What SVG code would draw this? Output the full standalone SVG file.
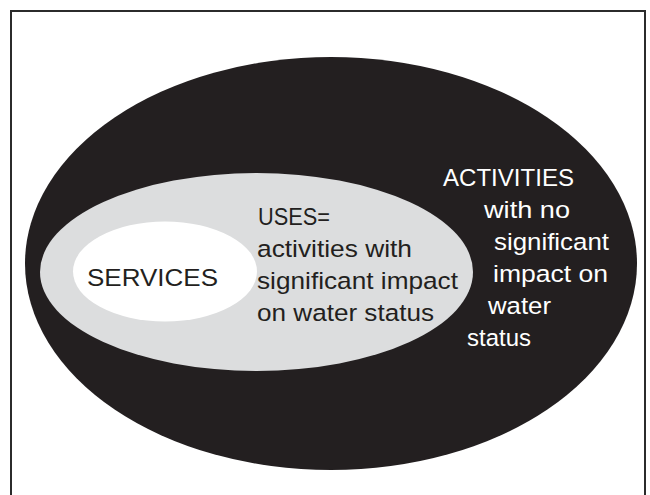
<svg xmlns="http://www.w3.org/2000/svg" width="650" height="495" viewBox="0 0 650 495">
  <style>
    .frame { fill: #ffffff; stroke: #2b2b2b; stroke-width: 2; }
    .outer { fill: #231f20; }
    .middle { fill: #dcddde; }
    .inner { fill: #ffffff; }
    text { font-family: "Liberation Sans", Arial, sans-serif; font-size: 24.5px; }
    .dark { fill: #231f20; }
    .light { fill: #ffffff; }
  </style>

  <!-- page frame (open at the bottom edge) -->
  <rect class="frame" x="11" y="11" width="634" height="500"/>

  <!-- outermost set: all activities -->
  <g id="activities">
    <ellipse class="outer" cx="331" cy="263.5" rx="306" ry="206.5"/>
    <text class="light" x="443" y="186" textLength="131" lengthAdjust="spacingAndGlyphs">ACTIVITIES</text>
    <text class="light" x="484" y="218" textLength="86" lengthAdjust="spacingAndGlyphs">with no</text>
    <text class="light" x="494" y="250" textLength="115" lengthAdjust="spacingAndGlyphs">significant</text>
    <text class="light" x="493" y="282" textLength="115" lengthAdjust="spacingAndGlyphs">impact on</text>
    <text class="light" x="488" y="314" textLength="63" lengthAdjust="spacingAndGlyphs">water</text>
    <text class="light" x="467" y="346" textLength="64" lengthAdjust="spacingAndGlyphs">status</text>
  </g>

  <!-- middle set: uses -->
  <g id="uses">
    <ellipse class="middle" cx="256.5" cy="272" rx="216.5" ry="99"/>
    <text class="dark" x="258" y="225" textLength="72" lengthAdjust="spacingAndGlyphs">USES=</text>
    <text class="dark" x="257" y="257" textLength="155" lengthAdjust="spacingAndGlyphs">activities with</text>
    <text class="dark" x="257" y="289" textLength="201" lengthAdjust="spacingAndGlyphs">significant impact</text>
    <text class="dark" x="257" y="321" textLength="177" lengthAdjust="spacingAndGlyphs">on water status</text>
  </g>

  <!-- innermost set: services -->
  <g id="services">
    <ellipse class="inner" cx="165" cy="271.5" rx="92" ry="50"/>
    <text class="dark" x="87" y="286" textLength="131" lengthAdjust="spacingAndGlyphs" font-size="29.5">SERVICES</text>
  </g>
</svg>
